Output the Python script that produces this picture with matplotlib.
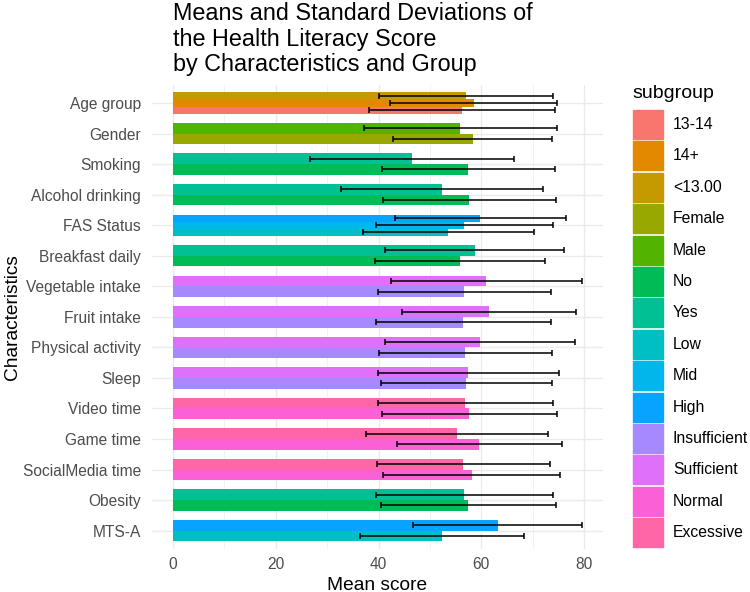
import numpy as np
import matplotlib
matplotlib.use("Agg")
import matplotlib.pyplot as plt
from matplotlib.patches import Rectangle

plt.rcParams['font.family'] = ['Liberation Sans', 'DejaVu Sans']

# data: characteristics top to bottom, subgroups listed bottom to top within each row
characteristics = ["Age group", "Gender", "Smoking", "Alcohol drinking", "FAS Status",
                   "Breakfast daily", "Vegetable intake", "Fruit intake", "Physical activity",
                   "Sleep", "Video time", "Game time", "SocialMedia time", "Obesity", "MTS-A"]
subgroups = [["13-14", "14+", "<13.00"], ["Female", "Male"], ["No", "Yes"], ["No", "Yes"],
             ["Low", "Mid", "High"], ["No", "Yes"], ["Insufficient", "Sufficient"],
             ["Insufficient", "Sufficient"], ["Insufficient", "Sufficient"],
             ["Insufficient", "Sufficient"], ["Normal", "Excessive"], ["Normal", "Excessive"],
             ["Normal", "Excessive"], ["No", "Yes"], ["Low", "High"]]
means = [[56.2, 58.5, 57.0], [58.3, 55.9], [57.5, 46.5], [57.7, 52.3], [53.6, 56.7, 59.8],
         [55.9, 58.7], [56.7, 61.0], [56.5, 61.5], [56.9, 59.7], [57.1, 57.5],
         [57.7, 56.9], [59.6, 55.2], [58.1, 56.5], [57.5, 56.7], [52.4, 63.2]]
sds = [[18.1, 16.2, 17.0], [15.4, 18.8], [16.9, 19.8], [16.8, 19.7], [16.7, 17.2, 16.6],
       [16.5, 17.5], [16.8, 18.6], [17.0, 17.0], [16.8, 18.5], [16.6, 17.6],
       [17.1, 17.0], [16.1, 17.7], [17.3, 16.8], [17.0, 17.2], [16.0, 16.4]]

legend_order = ["13-14", "14+", "<13.00", "Female", "Male", "No", "Yes", "Low", "Mid",
                "High", "Insufficient", "Sufficient", "Normal", "Excessive"]
palette = ["#F8766D", "#E38900", "#C49A00", "#99A800", "#53B400", "#00BC56", "#00C094",
           "#00BFC4", "#00B6EB", "#06A4FF", "#A58AFF", "#DF70F8", "#FB61D7", "#FF66A8"]
colors = dict(zip(legend_order, palette))

W, H = 750, 592
fig = plt.figure(figsize=(W / 100, H / 100), dpi=100)
ax = fig.add_axes([152 / W, 1 - 549 / H, 451 / W, (549 - 84.7) / H])

n_rows = len(characteristics)
dodge = 0.7
for i, (cat, subs, ms, ss) in enumerate(zip(characteristics, subgroups, means, sds)):
    yc = n_rows - 1 - i
    n = len(subs)
    h = dodge / n
    ys = [yc - dodge / 2 + (k + 0.5) * h for k in range(n)]
    ax.barh(ys, ms, height=h, color=[colors[s] for s in subs], zorder=2)
    ax.errorbar(ms, ys, xerr=ss, fmt='none', ecolor='black', elinewidth=1.1,
                capsize=2.2, capthick=1.1, zorder=3)

ax.set_xlim(-4.1, 83.7)
ax.set_ylim(-0.6, n_rows - 0.4)
ax.set_yticks(range(n_rows))
ax.set_yticklabels(characteristics[::-1])
ax.set_xticks([0, 20, 40, 60, 80])
ax.set_xticks([10, 30, 50, 70], minor=True)
ax.grid(which='major', color='#EBEBEB', lw=1.0, zorder=0)
ax.grid(which='minor', axis='x', color='#EBEBEB', lw=0.5, zorder=0)
ax.set_axisbelow(True)
for s in ax.spines.values():
    s.set_visible(False)
ax.tick_params(which='both', length=0, labelsize=11.2, labelcolor='#4D4D4D')
ax.tick_params(axis='y', pad=8)
ax.tick_params(axis='x', pad=6)
ax.set_xlabel("Mean score", fontsize=13.8, labelpad=3)
fig.text(13 / W, 1 - 317 / H, "Characteristics", fontsize=13.8, rotation=90,
         ha='center', va='center')

fig.text(173 / W, 1 - 2 / H, "Means and Standard Deviations of\nthe Health Literacy Score\nby Characteristics and Group",
         fontsize=16.8, ha='left', va='top', linespacing=1.14)

# legend
fig.text(632 / W, 1 - 93 / H, "subgroup", fontsize=14, ha='left', va='center')
key_top, pitch, ksz = 110, 31.4, 29
for k, name in enumerate(legend_order):
    top = key_top + k * pitch
    fig.add_artist(Rectangle((632.5 / W, 1 - (top + ksz) / H), 30 / W, ksz / H,
                             transform=fig.transFigure, color=colors[name]))
    fig.text(673 / W, 1 - (top + ksz / 2) / H, name, fontsize=11.3, ha='left', va='center')

fig.savefig("out.png", dpi=100)
